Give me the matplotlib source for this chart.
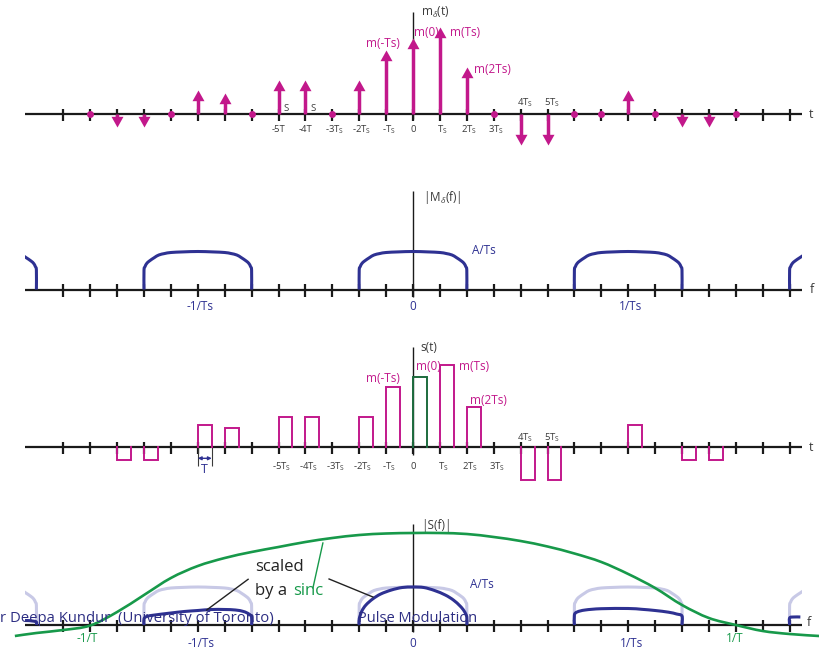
import numpy as np
import matplotlib.pyplot as plt
from matplotlib.path import Path
from matplotlib.patches import Rectangle, PathPatch

plt.rcParams['font.family'] = ['Open Sans', 'DejaVu Sans']
plt.rcParams['mathtext.fontset'] = 'custom'
plt.rcParams['mathtext.rm'] = 'Open Sans'
plt.rcParams['mathtext.it'] = 'Open Sans:italic'

# --- data (x in tick units, heights in pixels above each baseline) ---
sample_idx = np.arange(-12, 13)
impulse_h = [0, -13, -13, 0, 24, 21, 0, 34, 34, 0, 34, 64, 76, 87, 47,
             0, -31, -31, 0, 0, 24, 0, -13, -13, 0]
pulse_h = [0, -13, -13, 0, 22, 19, 0, 30, 30.5, 0, 30, 60, 70, 82, 40,
           0, -33, -33, 0, 0, 22, 0, -13, -13, 0]
pulse_width = 0.52  # T / Ts

tick_idx = np.arange(-13, 15)

# half profile of one spectral replica (offset from centre, height)
lobe_u = [0, 0.55, 1.0, 1.23, 1.45, 1.61, 1.8, 1.9, 1.96, 2.0, 2.0]
lobe_h = [38, 37.6, 37, 36, 34.5, 32, 28.5, 26, 23, 19.3, 0]
lobe_centres = [-16, -8, 0, 8, 16]

# replicas after the sinc weighting (|S(f)|)
scaled_lobes = {
    -16: ([1.3, 1.6, 1.85, 2.0, 2.0], [4, 4.5, 4, 3, 0]),
    -8: ([-2, -2, -1.9, -1.6, -1, -0.5, 0, 0.5, 1, 1.4, 1.7, 1.9, 2, 2],
         [0, 6, 8.5, 10, 12, 13.5, 14.5, 15.5, 15.5, 15, 13.5, 11, 8, 0]),
    0: ([-2, -2, -1.9, -1.75, -1.5, -1.2, -0.8, -0.4, 0, 0.4, 0.8, 1.2, 1.5, 1.75, 1.9, 2, 2],
        [0, 6, 14, 20, 26, 31, 35, 37.5, 38, 37.5, 34.5, 30, 25, 19, 14, 8, 0]),
    8: ([-2, -2, -1.9, -1.6, -1, 0, 0.5, 1, 1.5, 1.8, 2, 2],
        [0, 10, 13, 15, 16.3, 16.5, 15.7, 14.5, 12.8, 11, 9, 0]),
    16: ([-2, -2, -1.85, -1.6], [0, 7, 8, 8]),
}

sinc_k = [-14.8, -14, -13, -12, -11, -10, -9, -8, -7, -6, -5, -4, -3, -2, -1, 0,
          1, 2, 3, 4, 5, 6, 7, 8, 9, 10, 11, 12, 13, 14, 15.1]
sinc_h = [-11, -8, -5, -0.5, 13, 30, 47, 59, 67, 73, 78, 83, 87, 90, 91.5, 92,
          92, 91, 88, 84, 78.5, 71.5, 63, 51, 37, 20, 7, 0, -6, -9, -11]

MAG = '#c2188b'
BLUE = '#2e3192'
LIGHT = '#c8c9e6'
GREEN = '#17994a'
DGREEN = '#1d6b3d'
AX = '#1a1a1a'
GREY = '#3a3a3a'

W, H = 820, 650
X0, DX = 413, 26.9
bands = [(0, 165, 114), (165, 330, 289.5), (330, 500, 447.3), (500, 650, 625)]
axis_span = [-14.42, 14.46]
vaxis = [(-5, 102), (-7, 99), (-7.7, 100.6), (-6.7, 101)]

fig = plt.figure(figsize=(8.2, 6.5), dpi=100)
axes = []
for (top, bot, base), (lo, hi) in zip(bands, vaxis):
    ax = fig.add_axes([0, 1 - bot / H, 1, (bot - top) / H])
    ax.set_xlim(-X0 / DX, (W - X0) / DX)
    ax.set_ylim(base - bot, base - top)
    ax.axis('off')
    ax.plot(axis_span, [0, 0], color=AX, lw=1.6, solid_capstyle='butt', zorder=2)
    ax.vlines(tick_idx, -7, 5.5, color=AX, lw=1.6, zorder=2)
    ax.vlines(0, lo, hi, color=AX, lw=1.0, zorder=2)
    axes.append(ax)

up_head = Path([(0, 0), (-0.56, -1), (0.56, -1), (0, 0)],
               [Path.MOVETO, Path.LINETO, Path.LINETO, Path.CLOSEPOLY])
down_head = Path([(0, 0), (-0.56, 1), (0.56, 1), (0, 0)],
                 [Path.MOVETO, Path.LINETO, Path.LINETO, Path.CLOSEPOLY])


def ts_label(s):
    return s + r'$_{\mathregular{S}}$'


def smooth_curve(ax, x, y, clip=True, **kw):
    # draw a smooth bezier through the read points
    p = np.column_stack([np.asarray(x, float), np.asarray(y, float)])
    n = len(p)
    verts = [p[0]]
    codes = [Path.MOVETO]
    for i in range(n - 1):
        p0 = p[i - 1] if i > 0 else p[i]
        p1, p2 = p[i], p[i + 1]
        p3 = p[i + 2] if i + 2 < n else p[i + 1]
        verts += [p1 + (p2 - p0) / 6, p2 - (p3 - p1) / 6, p2]
        codes += [Path.CURVE4] * 3
    patch = PathPatch(Path(verts, codes), fill=False, capstyle='butt',
                      joinstyle='round', **kw)
    ax.add_patch(patch)
    if clip:
        patch.set_clip_path(Rectangle((axis_span[0], -100), axis_span[1] - axis_span[0], 300,
                                      transform=ax.transData))
    return patch


# ---------------- panel 1: impulse train ----------------
ax = axes[0]
for k, h in zip(sample_idx, impulse_h):
    if h == 0:
        ax.plot(k, 0, 'o', color=MAG, ms=5, mew=0, zorder=4)
        continue
    s = np.sign(h)
    ax.plot([k, k], [0, h - s * 8], color=MAG, lw=2.5, solid_capstyle='butt', zorder=4)
    ax.plot(k, h, marker=up_head if s > 0 else down_head, ms=15.4, color=MAG, mew=0, zorder=4)

ax.text(0.29, 101.7, r'm$_\delta$(t)', fontsize=8.5, color=GREY, va='center', ha='left')
ax.text(14.7, 0, 't', fontsize=9, color=GREY, va='center', ha='left')
ax.text(-1.1, 70.7, 'm(-Ts)', fontsize=8.5, color=MAG, ha='center', va='center')
ax.text(0.49, 81.3, 'm(0)', fontsize=8.5, color=MAG, ha='center', va='center')
ax.text(1.93, 81.3, 'm(Ts)', fontsize=8.5, color=MAG, ha='center', va='center')
ax.text(2.94, 44.7, 'm(2Ts)', fontsize=8.5, color=MAG, ha='center', va='center')
for k, lab in [(-5, '-5T'), (-4, '-4T')]:
    ax.text(k, -16, lab, fontsize=6.8, color=GREY, ha='center', va='center')
    ax.text(k + 0.28, 5.5, 'S', fontsize=6.8, color=GREY, ha='center', va='center')
for k, lab in [(-3, '-3T'), (-2, '-2T'), (-1, '-T'), (1, 'T'), (2, '2T'), (3, '3T')]:
    ax.text(k + 0.1, -16, ts_label(lab), fontsize=6.8, color=GREY, ha='center', va='center')
ax.text(0, -16, '0', fontsize=6.8, color=GREY, ha='center', va='center')
for k, lab in [(4, '4T'), (5, '5T')]:
    ax.text(k + 0.15, 11, ts_label(lab), fontsize=6.8, color=GREY, ha='center', va='center')


def draw_lobe(ax, c, color, lw, z):
    u = np.concatenate([-np.array(lobe_u[::-1]), np.array(lobe_u[1:])])
    h = np.concatenate([np.array(lobe_h[::-1]), np.array(lobe_h[1:])])
    smooth_curve(ax, c + u, h, edgecolor=color, lw=lw, zorder=z)


# ---------------- panel 2: spectrum of impulse train ----------------
ax = axes[1]
for c in lobe_centres:
    draw_lobe(ax, c, BLUE, 2.2, 3)
ax.text(0.37, 91.5, r'|M$_\delta$(f)|', fontsize=8.5, color=GREY, va='center', ha='left')
ax.text(2.64, 38.5, 'A/Ts', fontsize=8.5, color=BLUE, ha='center', va='center')
ax.text(14.76, 0, 'f', fontsize=9, color=GREY, va='center', ha='left')
for k, lab in [(-7.9, '-1/Ts'), (0, '0'), (8.1, '1/Ts')]:
    ax.text(k, -17.5, lab, fontsize=8.5, color=BLUE, ha='center', va='center')

# ---------------- panel 3: flat-top pulses ----------------
ax = axes[2]
for k, h in zip(sample_idx, pulse_h):
    if h == 0:
        continue
    col = DGREEN if k == 0 else MAG
    ax.plot([k, k, k + pulse_width, k + pulse_width], [0, h, h, 0], color=col,
            lw=1.4, zorder=4, solid_joinstyle='miter')
ax.text(0.29, 100, 's(t)', fontsize=8.5, color=GREY, va='center', ha='left')
ax.text(14.7, 0, 't', fontsize=9, color=GREY, va='center', ha='left')
ax.text(-1.1, 69, 'm(-Ts)', fontsize=8.5, color=MAG, ha='center', va='center')
ax.text(0.57, 80.6, 'm(0)', fontsize=8.5, color=MAG, ha='center', va='center')
ax.text(2.27, 80.6, 'm(Ts)', fontsize=8.5, color=MAG, ha='center', va='center')
ax.text(2.81, 47.3, 'm(2Ts)', fontsize=8.5, color=MAG, ha='center', va='center')
for k, lab in [(-5, '-5T'), (-4, '-4T'), (-3, '-3T'), (-2, '-2T'), (-1, '-T'),
               (1, 'T'), (2, '2T'), (3, '3T')]:
    ax.text(k + 0.12, -19.5, ts_label(lab), fontsize=6.8, color=GREY, ha='center', va='center')
ax.text(0, -19.5, '0', fontsize=6.8, color=GREY, ha='center', va='center')
for k, lab in [(4, '4T'), (5, '5T')]:
    ax.text(k + 0.15, 9.3, ts_label(lab), fontsize=6.8, color=GREY, ha='center', va='center')
# pulse width marker
ax.vlines([-8, -8 + pulse_width], -19, 0, color=GREY, lw=0.8, zorder=3)
ax.annotate('', xy=(-8 + pulse_width, -11), xytext=(-8, -11),
            arrowprops=dict(arrowstyle='<|-|>', color=BLUE, lw=1.0, shrinkA=0, shrinkB=0,
                            mutation_scale=5))
ax.text(-7.77, -22, 'T', fontsize=9, color=BLUE, ha='center', va='center')

# ---------------- panel 4: spectrum of flat-top pulses ----------------
ax = axes[3]
for c in lobe_centres:
    draw_lobe(ax, c, LIGHT, 2.2, 1)
for c, (u, h) in scaled_lobes.items():
    smooth_curve(ax, c + np.array(u), h, edgecolor=BLUE, lw=2.2, zorder=3)
smooth_curve(ax, sinc_k, sinc_h, clip=False, edgecolor=GREEN, lw=1.9, zorder=4)

ax.text(0.3, 100, '|S(f)|', fontsize=8.5, color=GREY, va='center', ha='left')
ax.text(2.57, 40, 'A/Ts', fontsize=8.5, color=BLUE, ha='center', va='center')
ax.text(14.65, 2, 'f', fontsize=9, color=GREY, va='center', ha='left')
for k, lab in [(-7.89, '-1/Ts'), (0, '0'), (8.14, '1/Ts')]:
    ax.text(k, -18.3, lab, fontsize=8.5, color=BLUE, ha='center', va='center')
for k, lab in [(-12.1, '-1/T'), (11.97, '1/T')]:
    ax.text(k, -13.3, lab, fontsize=8.5, color=GREEN, ha='center', va='center')

ax.text(-5.87, 58, 'scaled', fontsize=12, color='#222222', ha='left', va='center', zorder=6)
ax.text(-5.87, 34, 'by a ', fontsize=12, color='#222222', ha='left', va='center', zorder=6)
ax.text(-4.46, 34, 'sinc', fontsize=12, color=GREEN, ha='left', va='center', zorder=6)
ax.plot([-6.13, -7.67], [45.7, 15], color='#222222', lw=1.0, zorder=5)
ax.plot([-3.72, -3.35], [37, 82], color=GREEN, lw=1.0, zorder=5)
ax.plot([-3.12, -1.49], [46, 28], color='#222222', lw=1.0, zorder=5)

# slide footer showing through
ax.text(-X0 / DX, 6, 'r Deepa Kundur  (University of Toronto)', fontsize=10.7,
        color='#2d2e83', ha='left', va='center', zorder=7)
ax.text(-2.03, 6, 'Pulse Modulation', fontsize=10.5, color='#2d2e83',
        ha='left', va='center', zorder=7)

fig.savefig('out.png', dpi=100)
